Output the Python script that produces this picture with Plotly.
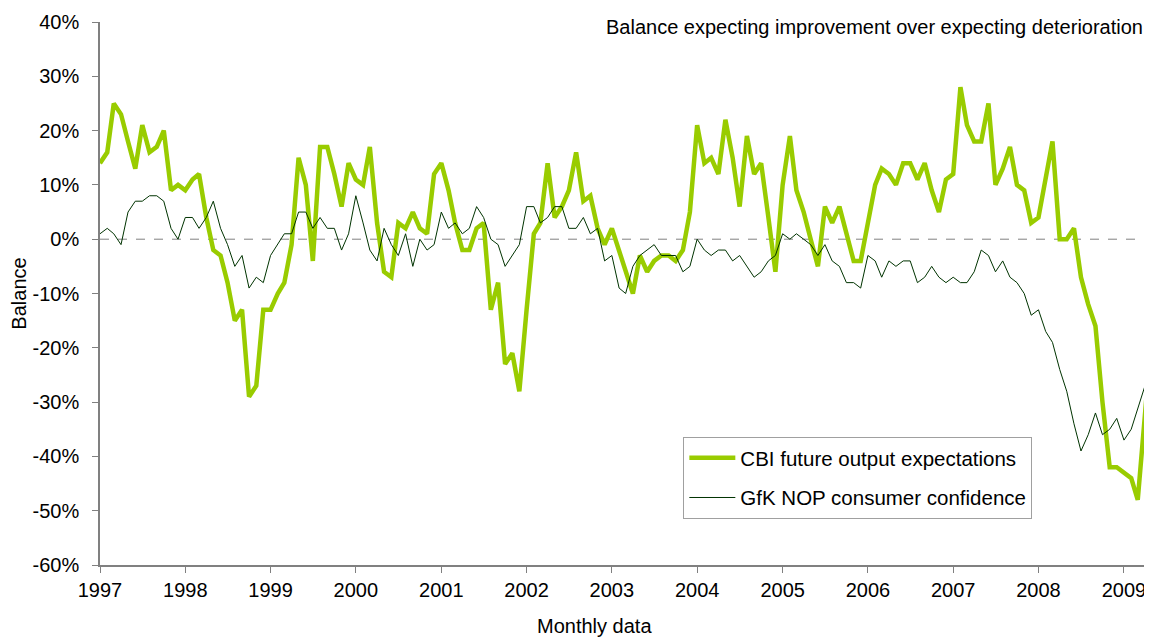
import pandas as pd
import plotly.graph_objects as go

start_month = "1997-01-01"

cbi = [
    14, 16, 25, 23, 18, 13, 21, 16, 17, 20, 9, 10,          # 1997
    9, 11, 12, 4, -2, -3, -8, -15, -13, -29, -27, -13,      # 1998
    -13, -10, -8, -1, 15, 10, -4, 17, 17, 12, 6, 14,        # 1999
    11, 10, 17, 3, -6, -7, 3, 2, 5, 2, 1, 12,               # 2000
    14, 9, 3, -2, -2, 2, 3, -13, -8, -23, -21, -28,         # 2001
    -13, 1, 3, 14, 4, 6, 9, 16, 7, 8, 2, -1,                # 2002
    2, -2, -6, -10, -3, -6, -4, -3, -3, -4, -2, 5,          # 2003
    21, 14, 15, 12, 22, 15, 6, 19, 12, 14, 4, -6,           # 2004
    10, 19, 9, 5, 0, -5, 6, 3, 6, 1, -4, -4,                # 2005
    3, 10, 13, 12, 10, 14, 14, 11, 14, 9, 5, 11,            # 2006
    12, 28, 21, 18, 18, 25, 10, 13, 17, 10, 9, 3,           # 2007
    4, 11, 18, 0, 0, 2, -7, -12, -16, -30, -42, -42,        # 2008
    -43, -44, -48, -31, -17,                                # 2009
]

gfk = [
    1, 2, 1, -1, 5, 7, 7, 8, 8, 7, 2, 0,                    # 1997
    4, 4, 2, 4, 7, 2, -1, -5, -3, -9, -7, -8,               # 1998
    -3, -1, 1, 1, 5, 5, 2, 4, 2, 2, -2, 1,                  # 1999
    8, 3, -2, -4, 2, -1, -3, 1, -5, 0, -2, -1,              # 2000
    5, 2, 3, 1, 2, 6, 4, 0, -1, -5, -3, -1,                 # 2001
    6, 6, 3, 4, 6, 6, 2, 2, 4, 1, 2, -4,                    # 2002
    -3, -9, -10, -5, -3, -2, -1, -3, -3, -3, -6, -5,        # 2003
    0, -2, -3, -2, -2, -4, -3, -5, -7, -6, -4, -3,          # 2004
    1, 0, 1, 0, -1, -3, -1, -4, -5, -8, -8, -9,             # 2005
    -3, -4, -7, -4, -5, -4, -4, -8, -7, -5, -7, -8,         # 2006
    -7, -8, -8, -6, -2, -3, -6, -4, -7, -8, -10, -14,       # 2007
    -13, -17, -19, -24, -28, -34, -39, -36, -32, -36, -35, -33,  # 2008
    -37, -35, -31, -27, -27,                                # 2009
]

year_labels = [str(y) for y in range(1997, 2010)]
y_ticks = list(range(-60, 41, 10))
y_tick_labels = [f"{v}%" for v in y_ticks]

months = pd.date_range(start_month, periods=len(cbi), freq="MS")
year_ticks = [pd.Timestamp(f"{y}-01-01") for y in year_labels]

FONT = "Liberation Sans, Arial, sans-serif"

fig = go.Figure()
fig.add_trace(go.Scatter(
    x=months, y=cbi, mode="lines", name="CBI future output expectations",
    line=dict(color="#99cc00", width=4.5), legendgroup="a",
))
fig.add_trace(go.Scatter(
    x=months, y=gfk, mode="lines", name="GfK NOP consumer confidence",
    line=dict(color="#003300", width=1), legendgroup="b",
))

fig.add_hline(y=0, line=dict(color="#808080", width=1, dash="dash"), layer="below")

# page body has an 8px margin, so the figure is 8px smaller than the window
fig.update_layout(
    width=1144, height=631,
    margin=dict(l=92, r=0, t=14, b=74, autoexpand=False),
    paper_bgcolor="white", plot_bgcolor="white",
    font=dict(family=FONT, size=20, color="black"),
    showlegend=True,
    legend=dict(
        x=0.5545, y=0.2357, xanchor="left", yanchor="top",
        bgcolor="white", bordercolor="#a0a0a0", borderwidth=1,
        font=dict(family=FONT, size=20.5, color="black"),
        tracegroupgap=10, itemwidth=46,
    ),
    annotations=[
        dict(text="Balance expecting improvement over expecting deterioration",
             xref="paper", yref="paper", x=0.993, y=0.99, xanchor="right", yanchor="middle",
             showarrow=False, font=dict(family=FONT, size=20, color="black")),
        dict(text="Monthly data", xref="paper", yref="paper", x=0.47, y=-0.113,
             xanchor="center", yanchor="middle", showarrow=False,
             font=dict(family=FONT, size=20, color="black")),
    ],
)

fig.update_xaxes(
    type="date", range=[months[0], months[-1]],
    tickmode="array", tickvals=year_ticks, ticktext=year_labels,
    ticks="outside", ticklen=6, tickcolor="#808080", tickwidth=1,
    showline=True, linecolor="#808080", linewidth=1.5,
    showgrid=False, zeroline=False, automargin=False,
    tickfont=dict(family=FONT, size=20),
)
fig.update_yaxes(
    range=[-60, 40], tickmode="array", tickvals=y_ticks, ticktext=y_tick_labels,
    ticks="outside", ticklen=6, tickcolor="#808080", tickwidth=1,
    showline=True, linecolor="#808080", linewidth=1.5,
    showgrid=False, zeroline=False, automargin=False,
    ticklabelstandoff=9,
    title=dict(text="Balance", font=dict(family=FONT, size=20), standoff=4),
    tickfont=dict(family=FONT, size=20),
)

fig.write_html("out.html")
